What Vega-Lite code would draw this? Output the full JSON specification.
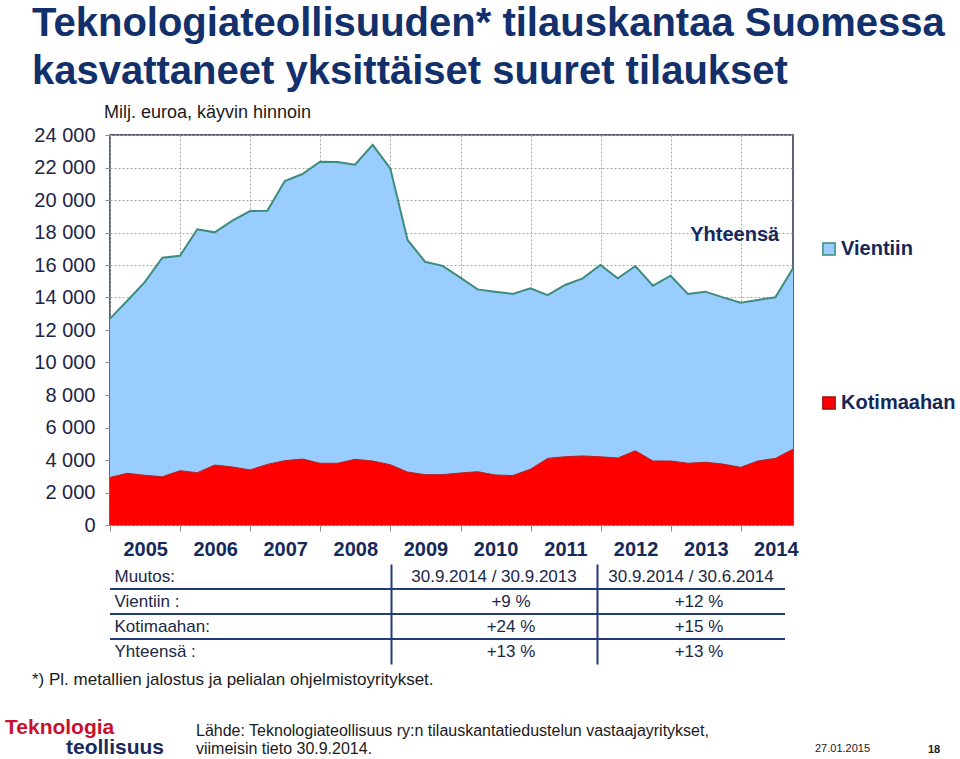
{
  "$schema": "https://vega.github.io/schema/vega-lite/v6.json",
  "background": "white",
  "padding": {"left": 5, "top": 4, "right": 0, "bottom": 0},
  "bounds": "flush",
  "spacing": 39,
  "config": {
    "font": "Liberation Sans",
    "view": {"stroke": null},
    "title": {"font": "Liberation Sans"},
    "axis": {"labelFont": "Liberation Sans", "labelOverlap": false, "labelSeparation": 0},
    "legend": {"labelFont": "Liberation Sans"}
  },
  "title": {
    "text": ["Teknologiateollisuuden* tilauskantaa Suomessa", "kasvattaneet yksittäiset suuret tilaukset"],
    "anchor": "start",
    "frame": "group",
    "dx": -78,
    "fontSize": 40,
    "lineHeight": 48,
    "fontWeight": "bold",
    "color": "#12306b",
    "offset": 11
  },
  "datasets": {
    "tilaukset": [
      {"pvm": "2004-12-31", "Kotimaahan": 2930, "Vientiin": 9770, "Yhteensä": 12700},
      {"pvm": "2005-03-31", "Kotimaahan": 3180, "Vientiin": 10620, "Yhteensä": 13800},
      {"pvm": "2005-06-30", "Kotimaahan": 3060, "Vientiin": 11890, "Yhteensä": 14950},
      {"pvm": "2005-09-30", "Kotimaahan": 2970, "Vientiin": 13480, "Yhteensä": 16450},
      {"pvm": "2005-12-31", "Kotimaahan": 3340, "Vientiin": 13230, "Yhteensä": 16570},
      {"pvm": "2006-03-31", "Kotimaahan": 3220, "Vientiin": 14980, "Yhteensä": 18200},
      {"pvm": "2006-06-30", "Kotimaahan": 3690, "Vientiin": 14320, "Yhteensä": 18010},
      {"pvm": "2006-09-30", "Kotimaahan": 3570, "Vientiin": 15160, "Yhteensä": 18730},
      {"pvm": "2006-12-31", "Kotimaahan": 3390, "Vientiin": 15930, "Yhteensä": 19320},
      {"pvm": "2007-03-31", "Kotimaahan": 3730, "Vientiin": 15610, "Yhteensä": 19340},
      {"pvm": "2007-06-30", "Kotimaahan": 3960, "Vientiin": 17210, "Yhteensä": 21170},
      {"pvm": "2007-09-30", "Kotimaahan": 4060, "Vientiin": 17540, "Yhteensä": 21600},
      {"pvm": "2007-12-31", "Kotimaahan": 3800, "Vientiin": 18560, "Yhteensä": 22360},
      {"pvm": "2008-03-31", "Kotimaahan": 3800, "Vientiin": 18540, "Yhteensä": 22340},
      {"pvm": "2008-06-30", "Kotimaahan": 4040, "Vientiin": 18130, "Yhteensä": 22170},
      {"pvm": "2008-09-30", "Kotimaahan": 3940, "Vientiin": 19450, "Yhteensä": 23390},
      {"pvm": "2008-12-31", "Kotimaahan": 3710, "Vientiin": 18240, "Yhteensä": 21950},
      {"pvm": "2009-03-31", "Kotimaahan": 3260, "Vientiin": 14280, "Yhteensä": 17540},
      {"pvm": "2009-06-30", "Kotimaahan": 3100, "Vientiin": 13100, "Yhteensä": 16200},
      {"pvm": "2009-09-30", "Kotimaahan": 3100, "Vientiin": 12850, "Yhteensä": 15950},
      {"pvm": "2009-12-31", "Kotimaahan": 3200, "Vientiin": 12020, "Yhteensä": 15220},
      {"pvm": "2010-03-31", "Kotimaahan": 3280, "Vientiin": 11220, "Yhteensä": 14500},
      {"pvm": "2010-06-30", "Kotimaahan": 3080, "Vientiin": 11280, "Yhteensä": 14360},
      {"pvm": "2010-09-30", "Kotimaahan": 3040, "Vientiin": 11180, "Yhteensä": 14220},
      {"pvm": "2010-12-31", "Kotimaahan": 3430, "Vientiin": 11130, "Yhteensä": 14560},
      {"pvm": "2011-03-31", "Kotimaahan": 4100, "Vientiin": 10050, "Yhteensä": 14150},
      {"pvm": "2011-06-30", "Kotimaahan": 4200, "Vientiin": 10570, "Yhteensä": 14770},
      {"pvm": "2011-09-30", "Kotimaahan": 4250, "Vientiin": 10930, "Yhteensä": 15180},
      {"pvm": "2011-12-31", "Kotimaahan": 4200, "Vientiin": 11800, "Yhteensä": 16000},
      {"pvm": "2012-03-31", "Kotimaahan": 4120, "Vientiin": 11060, "Yhteensä": 15180},
      {"pvm": "2012-06-30", "Kotimaahan": 4570, "Vientiin": 11370, "Yhteensä": 15940},
      {"pvm": "2012-09-30", "Kotimaahan": 3940, "Vientiin": 10790, "Yhteensä": 14730},
      {"pvm": "2012-12-31", "Kotimaahan": 3940, "Vientiin": 11400, "Yhteensä": 15340},
      {"pvm": "2013-03-31", "Kotimaahan": 3800, "Vientiin": 10420, "Yhteensä": 14220},
      {"pvm": "2013-06-30", "Kotimaahan": 3860, "Vientiin": 10500, "Yhteensä": 14360},
      {"pvm": "2013-09-30", "Kotimaahan": 3750, "Vientiin": 10260, "Yhteensä": 14010},
      {"pvm": "2013-12-31", "Kotimaahan": 3550, "Vientiin": 10130, "Yhteensä": 13680},
      {"pvm": "2014-03-31", "Kotimaahan": 3940, "Vientiin": 9910, "Yhteensä": 13850},
      {"pvm": "2014-06-30", "Kotimaahan": 4100, "Vientiin": 9910, "Yhteensä": 14010},
      {"pvm": "2014-09-30", "Kotimaahan": 4660, "Vientiin": 11140, "Yhteensä": 15800}
    ],
    "taulukko": [
      {"rivi": "Muutos:", "v1": "30.9.2014 / 30.9.2013", "v2": "30.9.2014 / 30.6.2014"},
      {"rivi": "Vientiin :", "v1": "+9 %", "v2": "+12 %"},
      {"rivi": "Kotimaahan:", "v1": "+24 %", "v2": "+15 %"},
      {"rivi": "Yhteensä :", "v1": "+13 %", "v2": "+13 %"}
    ]
  },
  "vconcat": [
    {
      "width": 683,
      "height": 390,
      "view": {"stroke": "#26324f", "strokeWidth": 1.5},
      "title": {"text": "Milj. euroa, käyvin hinnoin", "anchor": "start", "frame": "group", "dx": -6, "fontSize": 18, "fontWeight": "normal", "color": "#1a1a1a", "offset": 3},
      "data": {"name": "tilaukset"},
      "encoding": {
        "x": {
          "field": "pvm", "type": "temporal",
          "scale": {"type": "utc", "nice": false, "domain": [{"year": 2004, "month": 12, "date": 31, "utc": true}, {"year": 2014, "month": 9, "date": 30, "utc": true}]},
          "axis": {
            "values": [
              {"year": 2005, "month": 1, "date": 1, "utc": true}, {"year": 2006, "month": 1, "date": 1, "utc": true},
              {"year": 2007, "month": 1, "date": 1, "utc": true}, {"year": 2008, "month": 1, "date": 1, "utc": true},
              {"year": 2009, "month": 1, "date": 1, "utc": true}, {"year": 2010, "month": 1, "date": 1, "utc": true},
              {"year": 2011, "month": 1, "date": 1, "utc": true}, {"year": 2012, "month": 1, "date": 1, "utc": true},
              {"year": 2013, "month": 1, "date": 1, "utc": true}, {"year": 2014, "month": 1, "date": 1, "utc": true}
            ],
            "labelExpr": "utcFormat(datum.value, '%Y')",
            "labelOffset": 35, "labelFlush": false, "labelOverlap": false,
            "labelFontSize": 20, "labelFontWeight": "bold", "labelColor": "#16275a", "labelPadding": 8,
            "tickSize": 6, "tickColor": "#8c8c8c",
            "grid": true, "gridColor": "#a6a6a6", "gridDash": [2, 2],
            "domain": false, "title": null
          }
        },
        "y": {
          "field": "Yhteensä", "type": "quantitative",
          "scale": {"domain": [0, 24000], "nice": false},
          "axis": {
            "tickCount": 12,
            "labelExpr": "replace(format(datum.value, ',d'), ',', ' ')",
            "labelOverlap": false, "labelFlush": false, "labelSeparation": 0,
            "labelFontSize": 20, "labelColor": "#1c2645", "labelPadding": 10,
            "tickSize": 5, "tickColor": "#8c8c8c",
            "grid": true, "gridColor": "#a6a6a6", "gridDash": [2, 2],
            "domain": false, "title": null
          }
        }
      },
      "layer": [
        {
          "mark": {"type": "area"},
          "encoding": {
            "y2": {"field": "Kotimaahan"},
            "color": {
              "datum": "Vientiin",
              "scale": {"domain": ["Vientiin", "Kotimaahan"], "range": ["#99ccff", "#ff0000"]},
              "legend": {
                "orient": "none", "legendX": 709, "legendY": 104, "direction": "vertical",
                "title": null, "symbolType": "square", "symbolSize": 150, "symbolStrokeWidth": 1.5,
                "labelFontSize": 20, "labelFontWeight": "bold", "labelColor": "#14285a",
                "rowPadding": 134, "labelOffset": 2, "padding": 0,
                "encode": {"symbols": {"update": {"stroke": {"signal": "datum.value === 'Vientiin' ? '#3d8c7c' : '#a01010'"}}}}
              }
            }
          }
        },
        {
          "mark": {"type": "area"},
          "encoding": {
            "y": {"field": "Kotimaahan", "type": "quantitative"},
            "color": {"datum": "Kotimaahan"}
          }
        },
        {
          "mark": {"type": "line", "stroke": "#3d8c7c", "strokeWidth": 2}
        },
        {
          "mark": {"type": "line", "stroke": "#b02020", "strokeWidth": 1},
          "encoding": {
            "y": {"field": "Kotimaahan", "type": "quantitative"}
          }
        },
        {
          "data": {"values": [{"pvm": "2013-11-30", "Yhteensä": 17850, "teksti": "Yhteensä"}]},
          "mark": {"type": "text", "fontSize": 20, "fontWeight": "bold", "color": "#14285a", "baseline": "middle", "align": "center"},
          "encoding": {
            "text": {"field": "teksti"}
          }
        }
      ]
    },
    {
      "hconcat": [
        {
          "width": 281,
          "height": 100,
          "data": {"name": "taulukko"},
          "transform": [{"filter": "datum.rivi !== 'Yhteensä :'"}],
          "mark": {"type": "rule", "color": "#22397a", "strokeWidth": 2},
          "encoding": {
            "y": {
              "field": "rivi", "type": "nominal", "bandPosition": 1,
              "scale": {"domain": ["Muutos:", "Vientiin :", "Kotimaahan:", "Yhteensä :"], "padding": 0},
              "axis": {"orient": "left", "title": null, "domain": false, "ticks": false, "grid": false, "labelAlign": "left", "labelPadding": -4, "labelFontSize": 17, "labelColor": "#1a2747", "labelFont": "Liberation Sans"}
            }
          }
        },
        {
          "width": 206,
          "height": 100,
          "data": {"name": "taulukko"},
          "encoding": {
            "y": {
              "field": "rivi", "type": "nominal",
              "scale": {"domain": ["Muutos:", "Vientiin :", "Kotimaahan:", "Yhteensä :"], "padding": 0},
              "axis": {"orient": "left", "title": null, "labels": false, "ticks": false, "grid": false, "domain": true, "domainColor": "#22397a", "domainWidth": 2}
            }
          },
          "layer": [
            {
              "transform": [{"filter": "datum.rivi === 'Muutos:'"}],
              "mark": {"type": "text", "fontSize": 17, "color": "#1a2747", "font": "Liberation Sans"},
              "encoding": {"text": {"field": "v1"}}
            },
            {
              "transform": [{"filter": "datum.rivi !== 'Muutos:'"}],
              "mark": {"type": "text", "fontSize": 17, "color": "#1a2747", "font": "Liberation Sans", "dx": 17},
              "encoding": {"text": {"field": "v1"}}
            },
            {
              "transform": [{"filter": "datum.rivi !== 'Yhteensä :'"}],
              "mark": {"type": "rule", "color": "#22397a", "strokeWidth": 2},
              "encoding": {"y": {"field": "rivi", "type": "nominal", "bandPosition": 1}}
            }
          ]
        },
        {
          "width": 188,
          "height": 100,
          "data": {"name": "taulukko"},
          "encoding": {
            "y": {
              "field": "rivi", "type": "nominal",
              "scale": {"domain": ["Muutos:", "Vientiin :", "Kotimaahan:", "Yhteensä :"], "padding": 0},
              "axis": {"orient": "left", "title": null, "labels": false, "ticks": false, "grid": false, "domain": true, "domainColor": "#22397a", "domainWidth": 2}
            }
          },
          "layer": [
            {
              "transform": [{"filter": "datum.rivi === 'Muutos:'"}],
              "mark": {"type": "text", "fontSize": 17, "color": "#1a2747", "font": "Liberation Sans"},
              "encoding": {"text": {"field": "v2"}}
            },
            {
              "transform": [{"filter": "datum.rivi !== 'Muutos:'"}],
              "mark": {"type": "text", "fontSize": 17, "color": "#1a2747", "font": "Liberation Sans", "dx": 8},
              "encoding": {"text": {"field": "v2"}}
            },
            {
              "transform": [{"filter": "datum.rivi !== 'Yhteensä :'"}],
              "mark": {"type": "rule", "color": "#22397a", "strokeWidth": 2},
              "encoding": {"y": {"field": "rivi", "type": "nominal", "bandPosition": 1}}
            }
          ]
        }
      ],
      "spacing": 0,
      "bounds": "flush",
      "title": {"text": "*) Pl. metallien jalostus ja pelialan ohjelmistoyritykset.", "orient": "bottom", "anchor": "start", "frame": "group", "dx": -78, "offset": 8, "fontSize": 17, "fontWeight": "normal", "color": "#1a1a1a"}
    },
    {
      "hconcat": [
        {"width": 43, "height": 101, "data": {"values": []}, "mark": "text",
         "title": {"text": "Teknologia", "orient": "bottom", "anchor": "start", "frame": "group", "dx": -105, "offset": 13, "fontSize": 21, "fontWeight": "bold", "color": "#c8102e"}},
        {"width": 43, "height": 101, "data": {"values": []}, "mark": "text",
         "title": {"text": "teollisuus", "orient": "bottom", "anchor": "start", "frame": "group", "dx": -87, "offset": 33, "fontSize": 21, "fontWeight": "bold", "color": "#1b2a5c"}},
        {"width": 619, "height": 101, "data": {"values": []}, "mark": "text",
         "title": {"text": ["Lähde: Teknologiateollisuus ry:n tilauskantatiedustelun vastaajayritykset,", "viimeisin tieto 30.9.2014."], "orient": "bottom", "anchor": "start", "frame": "group", "offset": 19, "fontSize": 16, "lineHeight": 18, "fontWeight": "normal", "color": "#1a1a1a"}},
        {"width": 95, "height": 101, "data": {"values": []}, "mark": "text",
         "title": {"text": "27.01.2015", "orient": "bottom", "anchor": "start", "frame": "group", "offset": 39, "fontSize": 11, "fontWeight": "normal", "color": "#1a1a1a"}},
        {"width": 50, "height": 101, "data": {"values": []}, "mark": "text",
         "title": {"text": "18", "orient": "bottom", "anchor": "start", "frame": "group", "dx": 18, "offset": 40, "fontSize": 11, "fontWeight": "bold", "color": "#1a1a1a"}}
      ],
      "spacing": 0,
      "bounds": "flush"
    }
  ]
}
